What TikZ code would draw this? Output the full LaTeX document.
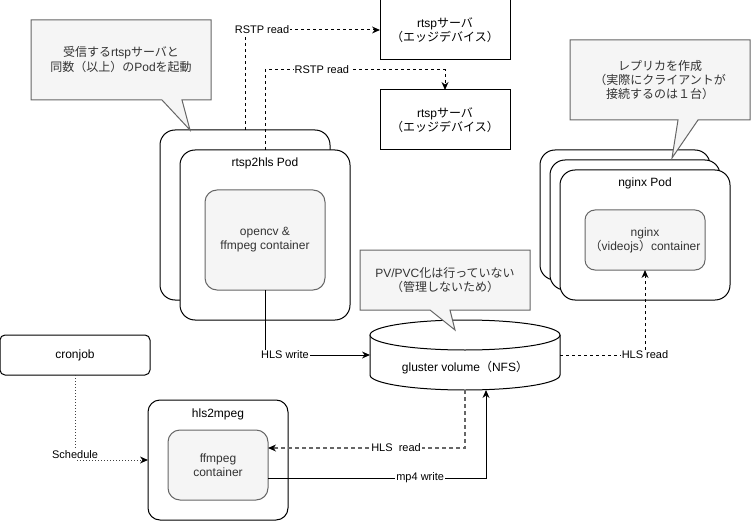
\documentclass[tikz,border=0pt]{standalone}
\usepackage{fontspec}
\setmainfont{Liberation Sans}
\newfontfamily\jpfont{Noto Sans CJK JP}
\newcommand{\jt}[1]{{\jpfont #1}}
\usetikzlibrary{arrows.meta}
\definecolor{boxfill}{HTML}{F5F5F5}
\definecolor{boxline}{HTML}{666666}
\definecolor{boxtext}{HTML}{333333}
\begin{document}
\begin{tikzpicture}[x=1pt,y=-1pt,
  every node/.style={inner sep=0pt, outer sep=0pt},
  base/.style={font=\fontsize{12}{14}\selectfont, align=center},
  podbox/.style={draw=black, fill=white, line width=1pt, rounded corners=15pt, minimum width=170pt},
  ctrbox/.style={draw=boxline, fill=boxfill, line width=1pt, rounded corners=12pt, text=boxtext, base},
  srvbox/.style={draw=black, fill=white, line width=1pt, minimum width=130pt, minimum height=60pt, base},
  callout/.style={draw=boxline, fill=boxfill, line width=1pt},
  ctext/.style={base, text=boxtext},
  elabel/.style={fill=white, font=\fontsize{11}{13}\selectfont, inner sep=1pt},
  tip/.style={-{Stealth[length=8pt,width=7pt,inset=2.5pt,line width=0pt,fill=black,color=black]}},
  dasharrow/.style={draw=black, line width=1pt, dash pattern=on 3pt off 3pt, tip},
  solidarrow/.style={draw=black, line width=1pt, tip},
  grayarrow/.style={draw=boxline, line width=1.4pt, dash pattern=on 4pt off 3pt, tip},
  dotarrow/.style={draw=black!75, line width=1pt, dash pattern=on 1pt off 2pt, tip},
]
\useasboundingbox (0,0) rectangle (751,521);

% rtsp2hls pods
\node[podbox, minimum height=170pt] (podB) at (245,215) {};
\node[podbox, minimum height=170pt] (podF) at (265,235) {};
\node[base] (podFt) at (265,163) {rtsp2hls Pod};
\node[ctrbox, minimum width=120pt, minimum height=100pt] (ctr1) at (265,240) {opencv \&\\ffmpeg container};

% rtsp servers
\node[srvbox] (srv1) at (445,30) {rtsp\jt{サーバ}\\\jt{（エッジデバイス）}};
\node[srvbox] (srv2) at (445,120) {rtsp\jt{サーバ}\\\jt{（エッジデバイス）}};

% nginx pods
\node[podbox, minimum height=130pt] (ngB) at (625,215) {};
\node[podbox, minimum height=130pt] (ngM) at (635,225) {};
\node[podbox, minimum height=130pt] (ngF) at (645,235) {};
\node[base] (ngFt) at (645,183) {nginx Pod};
\node[ctrbox, rounded corners=10pt, minimum width=120pt, minimum height=60pt] (ctr2) at (645,240) {nginx\\\jt{（}videojs\jt{）}container};

% cronjob
\node[draw=black, fill=white, line width=1pt, rounded corners=5pt, minimum width=150pt, minimum height=40pt, base] (cron) at (75,355) {cronjob};

% hls2mpeg
\node[podbox, rounded corners=12pt, minimum width=140pt, minimum height=120pt] (hls) at (218,460) {};
\node[base] (hlst) at (218,414) {hls2mpeg};
\node[ctrbox, minimum width=100pt, minimum height=70pt] (ctr3) at (218,465) {ffmpeg\\container};

% gluster volume cylinder
\node[minimum width=190pt, minimum height=70pt] (cyl) at (465,355) {};
\draw[fill=white, line width=1pt] (370,335) -- (370,375)
  arc[start angle=180, end angle=360, x radius=95pt, y radius=15pt] -- (560,335);
\draw[fill=white, line width=1pt] (465,335) ellipse [x radius=95pt, y radius=15pt];
\node[base] (cylt) at (465,368) {gluster volume\jt{（}NFS\jt{）}};

% connectors
\draw[dasharrow] (podB.north) |- node[elabel, pos=0.563] {RSTP read} (srv1.west);
\draw[dasharrow] (podF.north) -- ++(0,-80) -| node[elabel, pos=0.158] {RSTP read} (srv2.north);
\draw[solidarrow] (ctr1.south) |- node[elabel, pos=0.595] {HLS write} (cyl.west);
\draw[dasharrow] (cyl.east) -| node[elabel, pos=0.5] {HLS read} (ctr2.south);
\draw[grayarrow] (cyl.south) |- node[elabel, pos=0.675] {HLS~~read} ([yshift=17pt]ctr3.east);
\draw[solidarrow] ([yshift=-13pt]ctr3.east) -| node[elabel, pos=0.349] {mp4 write} ([xshift=21pt]cyl.south);
\draw[dotarrow] (cron.south) |- node[elabel, pos=0.5, yshift=5pt] {Schedule} (hls.west);

% callouts
\draw[callout] (31,20) -- (211,20) -- (211,100) -- (182,100) -- (190,130) -- (162,100) -- (31,100) -- cycle;
\node[ctext, font=\fontsize{12}{15}\selectfont] (c1) at (121,60) {\jt{受信する}rtsp\jt{サーバと}\\\jt{同数（以上）の}Pod\jt{を起動}};

\draw[callout] (570,40) -- (750,40) -- (750,120) -- (698,120) -- (672,158) -- (678,120) -- (570,120) -- cycle;
\node[ctext] (c2) at (660,80) {\jt{レプリカを作成}\\\jt{（実際にクライアントが}\\\jt{接続するのは１台）}};

\draw[callout] (360,250) -- (530,250) -- (530,310) -- (450,310) -- (455,330) -- (430,310) -- (360,310) -- cycle;
\node[ctext] (c3) at (445,280) {PV/PVC\jt{化は行っていない}\\\jt{（管理しないため）}};
\end{tikzpicture}
\end{document}
